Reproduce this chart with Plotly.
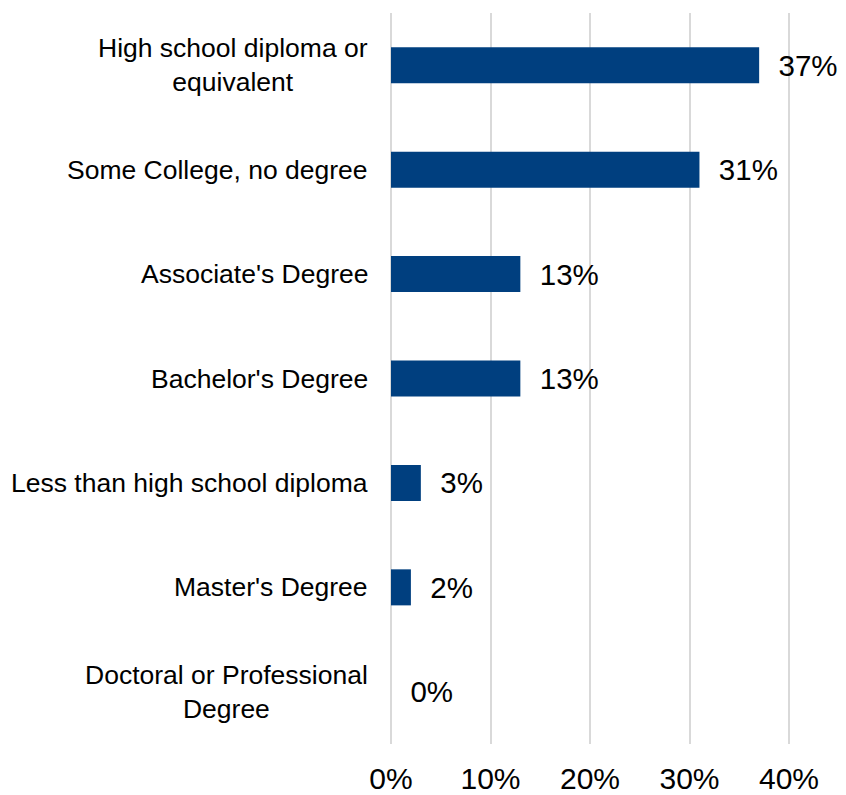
import plotly.graph_objects as go

categories = [
    "High school diploma or<br>equivalent",
    "Some College, no degree",
    "Associate's Degree",
    "Bachelor's Degree",
    "Less than high school diploma",
    "Master's Degree",
    "Doctoral or Professional<br>Degree",
]
values = [37, 31, 13, 13, 3, 2, 0]
tick_vals = [0, 10, 20, 30, 40]
tick_text = ["0%", "10%", "20%", "30%", "40%"]

FONT = "Liberation Sans, Arial"

fig = go.Figure(
    go.Bar(
        x=values,
        y=categories,
        orientation="h",
        marker=dict(color="#003f7f", line=dict(width=0)),
        width=0.345,
        text=[f"\u00a0\u00a0{v}%" for v in values],
        textposition="outside",
        textfont=dict(size=29.5, color="#000000", family=FONT),
        cliponaxis=False,
    )
)

for cat in categories:
    fig.add_annotation(
        x=0, xref="paper", y=cat, yref="y",
        text=cat, showarrow=False,
        xanchor="right", yanchor="middle", align="center",
        xshift=-21,
        font=dict(size=26.5, color="#000000", family=FONT),
    )

fig.update_layout(
    width=846,
    height=795,
    margin=dict(l=391, r=55, t=13, b=51, autoexpand=False),
    paper_bgcolor="white",
    plot_bgcolor="white",
    showlegend=False,
    font=dict(family=FONT, color="#000000"),
    xaxis=dict(
        range=[0, 40.2],
        tickvals=tick_vals,
        ticktext=tick_text,
        tickfont=dict(size=30),
        showgrid=True,
        gridcolor="#d9d9d9",
        gridwidth=2,
        zeroline=True,
        zerolinecolor="#d9d9d9",
        zerolinewidth=2,
        showline=False,
        ticklabelstandoff=14,
        automargin=False,
        fixedrange=True,
    ),
    yaxis=dict(
        categoryorder="array",
        categoryarray=categories[::-1],
        showticklabels=False,
        showgrid=False,
        showline=False,
        zeroline=False,
        automargin=False,
        fixedrange=True,
    ),
)

fig.write_html("out.html")
